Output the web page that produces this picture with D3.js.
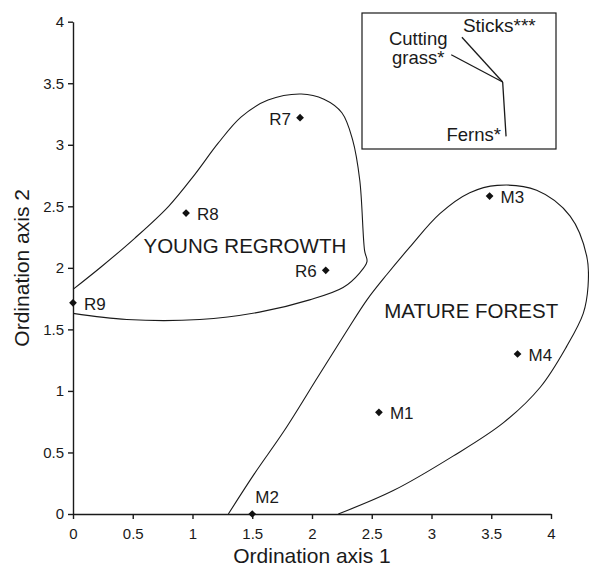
<!DOCTYPE html>
<html><head><meta charset="utf-8">
<script src="https://cdn.jsdelivr.net/npm/d3@7"></script>
<style>
body{margin:0;background:#fff}
svg text{font-family:"Liberation Sans",Arial,Helvetica,sans-serif;fill:#1a1a1a}
</style>
</head><body><svg id="c" width="589" height="573"></svg>
<script>
// ---- data ----
const siteNames = ["R6","R7","R8","R9","M1","M2","M3","M4"];
const axis1Scores = [2.115,1.90,0.946,0.0,2.56,1.50,3.486,3.72];
const axis2Scores = [1.98,3.22,2.445,1.716,0.826,0.0,2.583,1.30];
const labelSide = ["left","left","right","right","right","above","right","right"];

const tickValues = [0,0.5,1,1.5,2,2.5,3,3.5,4];
const tickLabels = ["0","0.5","1","1.5","2","2.5","3","3.5","4"];

// group outlines (hand-drawn hulls), ordination units
const regrowthHullX = [0,0.237,0.516,0.80,1.02,1.213,1.408,1.632,1.91,2.10,2.25,2.34,2.40,2.44,2.46,2.40,2.26,1.98,1.56,1.06,0.45,0];
const regrowthHullY = [1.825,2.009,2.24,2.50,2.76,3.011,3.227,3.363,3.412,3.37,3.26,3.04,2.71,2.14,2.05,1.96,1.84,1.74,1.64,1.58,1.58,1.63];
const matureHullX = [1.30,1.52,1.77,2.05,2.28,2.46,2.63,2.82,3.07,3.32,3.55,3.88,4.16,4.30,4.31,4.27,4.13,3.91,3.60,3.18,2.68,2.22];
const matureHullY = [0,0.33,0.68,1.115,1.47,1.74,1.95,2.17,2.44,2.61,2.67,2.63,2.42,2.09,1.85,1.63,1.36,1.03,0.74,0.47,0.19,0];

const groupNames = ["YOUNG REGROWTH","MATURE FOREST"];
const groupLabelX = [0.59,2.605];
const groupLabelY = [2.12,1.59];

// inset biplot vectors
const vectorNames = [["Sticks***"],["Cutting","grass*"],["Ferns*"]];
const vectorX = [-0.42,-0.53,0.035];
const vectorY = [0.46,0.28,-0.56];

const xTitle = "Ordination axis 1";
const yTitle = "Ordination axis 2";

// ---- chart ----
const svg = d3.select("#c");
const x = d3.scaleLinear().domain([0,4]).range([73,551]);
const y = d3.scaleLinear().domain([0,4]).range([514,21.7]);

// hulls
const line = d3.line().x(d=>x(d[0])).y(d=>y(d[1])).curve(d3.curveCatmullRom.alpha(0.5));
svg.append("path").attr("d", line(d3.zip(regrowthHullX, regrowthHullY)))
  .attr("fill","none").attr("stroke","#1a1a1a").attr("stroke-width",1.1);
svg.append("path").attr("d", line(d3.zip(matureHullX, matureHullY)))
  .attr("fill","none").attr("stroke","#1a1a1a").attr("stroke-width",1.1);

// axes
const xAxis = d3.axisBottom(x).tickValues(tickValues).tickFormat((d,i)=>tickLabels[i])
  .tickSize(5).tickSizeOuter(0).tickPadding(9);
const yAxis = d3.axisLeft(y).tickValues(tickValues).tickFormat((d,i)=>tickLabels[i])
  .tickSize(5).tickSizeOuter(0).tickPadding(4);
const gx = svg.append("g").attr("transform",`translate(0,${y(0)})`).call(xAxis);
const gy = svg.append("g").attr("transform",`translate(${x(0)},0)`).call(yAxis);
[gx,gy].forEach(g=>{
  g.selectAll("path,line").attr("stroke","#1a1a1a").attr("stroke-width",1.4);
  g.selectAll("text").attr("font-size",15).attr("fill","#1a1a1a")
    .style("font-family",'"Liberation Sans",Arial,sans-serif');
});

svg.append("text").attr("x",(x(0)+x(4))/2).attr("y",563).attr("text-anchor","middle")
  .attr("font-size",21).text(xTitle);
svg.append("text").attr("transform",`translate(29,${(y(0)+y(4))/2}) rotate(-90)`)
  .attr("text-anchor","middle").attr("font-size",21).text(yTitle);

// points
const sym = d3.symbol().type(d3.symbolSquare).size(30);
siteNames.forEach((n,i)=>{
  const px=x(axis1Scores[i]), py=y(axis2Scores[i]);
  svg.append("path").attr("d",sym()).attr("fill","#111")
    .attr("transform",`translate(${px},${py}) rotate(45)`);
  const t = svg.append("text").attr("font-size",17).text(n);
  if(labelSide[i]==="left") t.attr("x",px-9).attr("y",py+7).attr("text-anchor","end");
  else if(labelSide[i]==="above") t.attr("x",px+3).attr("y",py-11);
  else t.attr("x",px+11).attr("y",py+7);
});

// group labels
groupNames.forEach((n,i)=>{
  svg.append("text").attr("x",x(groupLabelX[i])).attr("y",y(groupLabelY[i]))
    .attr("font-size",20.5).text(n);
});

// inset
const ix = d3.scaleLinear().domain([-1.45,0.55]).range([362,556]);
const iy = d3.scaleLinear().domain([-0.69,0.71]).range([149,13]);
svg.append("rect").attr("x",ix(-1.45)).attr("y",iy(0.71))
  .attr("width",ix(0.55)-ix(-1.45)).attr("height",iy(-0.69)-iy(0.71))
  .attr("fill","none").attr("stroke","#1a1a1a").attr("stroke-width",1.2);
vectorNames.forEach((lines,i)=>{
  svg.append("line").attr("x1",ix(0)).attr("y1",iy(0))
    .attr("x2",ix(vectorX[i])).attr("y2",iy(vectorY[i]))
    .attr("stroke","#1a1a1a").attr("stroke-width",1.3);
});
const ex = i=>ix(vectorX[i]), ey = i=>iy(vectorY[i]);
svg.append("text").attr("x",ex(0)+1).attr("y",ey(0)-5).attr("font-size",19).text(vectorNames[0][0]);
const cg = svg.append("text").attr("font-size",18.5).attr("text-anchor","middle");
cg.append("tspan").attr("x",ex(1)-33).attr("y",ey(1)-10).text(vectorNames[1][0]);
cg.append("tspan").attr("x",ex(1)-33).attr("y",ey(1)+9).text(vectorNames[1][1]);
svg.append("text").attr("x",ex(2)-5).attr("y",ey(2)+5).attr("text-anchor","end")
  .attr("font-size",18.5).text(vectorNames[2][0]);
</script>
</body></html>
